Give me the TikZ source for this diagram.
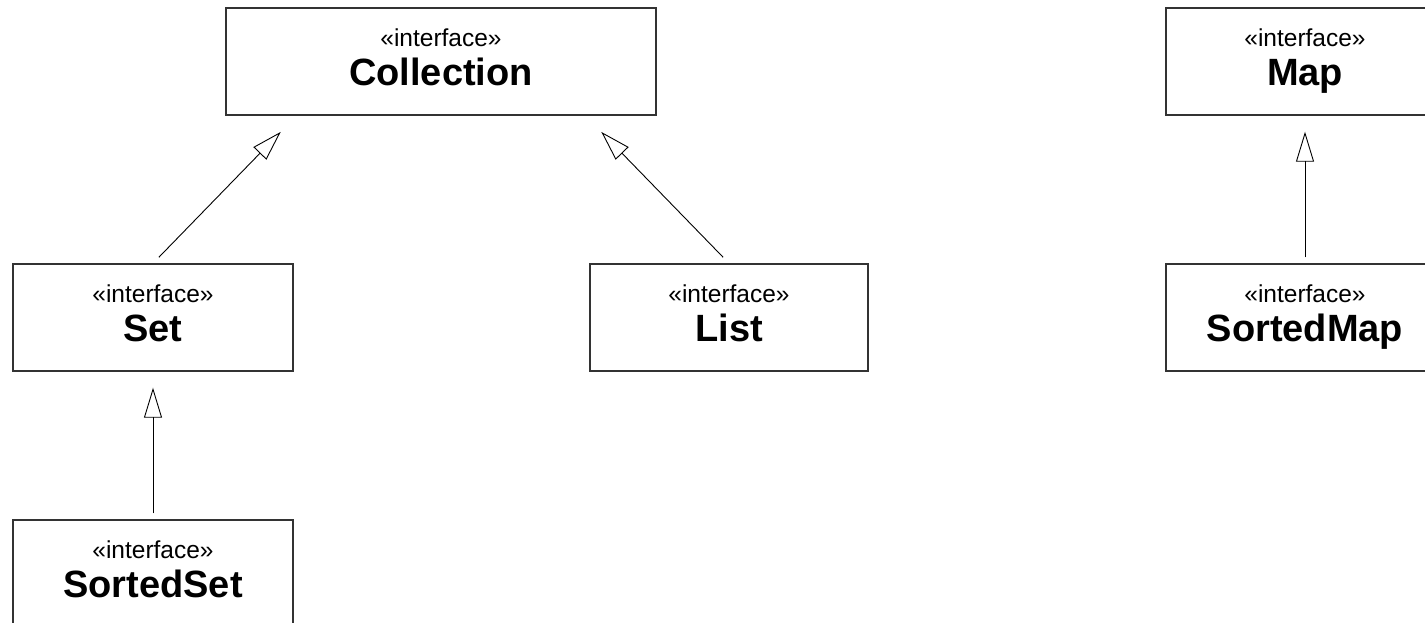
\documentclass[tikz,border=0pt]{standalone}
\usepackage{fontspec}
\setmainfont{Liberation Sans}
\usetikzlibrary{arrows.meta,calc}
\newcommand\umlstereo{«interface»}
\newcommand\umlname[1]{{\fontsize{38}{39}\selectfont\bfseries #1\vphantom{p}}}
\begin{document}
\begin{tikzpicture}[x=1pt,y=-1pt,
  umlbox/.style={draw=black!80, line width=1.4pt, minimum height=107pt, inner sep=0pt,
    align=center, font=\fontsize{24.5}{39}\selectfont},
  inh/.style={draw=black, line width=0.9pt,
    -{Triangle[open,length=30pt,width=18pt,line width=0.9pt]}}]
\useasboundingbox (0,0) rectangle (1425,622);
\clip (0,0) rectangle (1425,622);
\fill[white] (0,0) rectangle (1425,622);

\node[umlbox, minimum width=430pt] (coll) at (441,61.5) {\umlstereo\\\umlname{Collection}};
\node[umlbox, minimum width=280pt] (set) at (153,317.5) {\umlstereo\\\umlname{Set}};
\node[umlbox, minimum width=278pt] (list) at (729,317.5) {\umlstereo\\\umlname{List}};
\node[umlbox, minimum width=280pt] (sset) at (153,573.5) {\umlstereo\\\umlname{SortedSet}};
\node[umlbox, minimum width=278pt] (map) at (1305,61.5) {\umlstereo\\\umlname{Map}};
\node[umlbox, minimum width=278pt] (smap) at (1305,317.5) {\umlstereo\\\umlname{SortedMap}};

\draw[inh, shorten <=8.5pt, shorten >=22.6pt] (set.north) -- ($(coll.south west)!0.165!(coll.south east)$);
\draw[inh, shorten <=8.5pt, shorten >=22.6pt] (list.north) -- ($(coll.south west)!0.835!(coll.south east)$);
\draw[inh, shorten <=6pt, shorten >=16pt] (sset.north) -- (set.south);
\draw[inh, shorten <=6pt, shorten >=16pt] (smap.north) -- (map.south);
\end{tikzpicture}
\end{document}
